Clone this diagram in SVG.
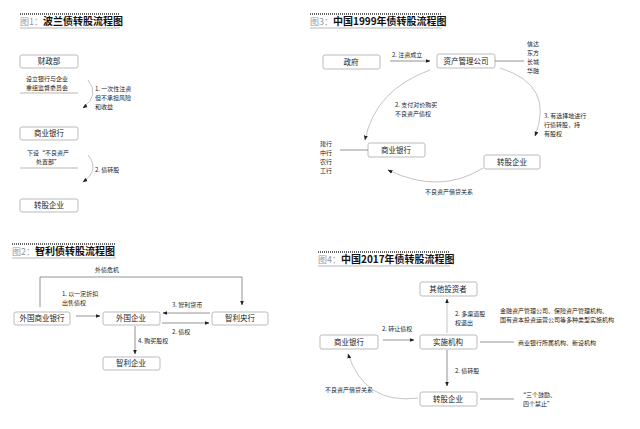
<svg xmlns="http://www.w3.org/2000/svg" width="640" height="429" viewBox="0 0 640 429">
<style>
text{font-family:"Noto Sans CJK SC","Noto Sans",sans-serif;font-size:6px;fill:#222}
.t{font-size:10px;font-weight:bold;fill:#111}
.tn{font-size:9px;fill:#999;font-weight:normal}
.b rect{fill:#fff;stroke:#bbb;stroke-width:1}
.b text{font-size:7.5px;text-anchor:middle}
.c{fill:none;stroke:#666;stroke-width:0.7}
.cg{fill:none;stroke:#aaa;stroke-width:0.7}
.dl{stroke:#666;stroke-width:2;stroke-dasharray:1 1}
.ul{stroke:#888;stroke-width:0.6}
</style>
<defs>
<marker id="a" viewBox="0 0 10 10" refX="9" refY="5" markerWidth="7" markerHeight="7" orient="auto"><path d="M0,1L10,5L0,9z" fill="#222"/></marker>
</defs>
<rect width="640" height="429" fill="#fff"/>
<g id="titles">
<line class="dl" x1="20" y1="14" x2="120" y2="14"/><text class="t" x="20" y="25"><tspan class="tn">图1：</tspan>波兰债转股流程图</text><line class="ul" x1="20" y1="28" x2="120" y2="28"/>
<line class="dl" x1="310" y1="14" x2="442" y2="14"/><text class="t" x="310" y="25"><tspan class="tn">图3：</tspan>中国1999年债转股流程图</text><line class="ul" x1="310" y1="28" x2="442" y2="28"/>
<line class="dl" x1="12" y1="244" x2="116" y2="244"/><text class="t" x="12" y="255"><tspan class="tn">图2：</tspan>智利债转股流程图</text><line class="ul" x1="12" y1="258" x2="116" y2="258"/>
<line class="dl" x1="318" y1="252" x2="450" y2="252"/><text class="t" x="318" y="263"><tspan class="tn">图4：</tspan>中国2017年债转股流程图</text><line class="ul" x1="318" y1="266" x2="450" y2="266"/>
</g>
<g id="n1a" class="b"><rect x="20" y="55" width="58" height="13" rx="2"/><text x="49" y="64">财政部</text></g>
<g id="n1b" class="b"><rect x="20" y="127" width="58" height="13" rx="2"/><text x="49" y="136">商业银行</text></g>
<g id="n1c" class="b"><rect x="20" y="199" width="58" height="13" rx="2"/><text x="49" y="208">转股企业</text></g>
<g id="n3a" class="b"><rect x="323" y="55" width="57" height="14" rx="2"/><text x="351" y="65">政府</text></g>
<g id="n3b" class="b"><rect x="437" y="54" width="58" height="14" rx="2"/><text x="466" y="64">资产管理公司</text></g>
<g id="n3c" class="b"><rect x="368" y="143" width="57" height="14" rx="2"/><text x="396" y="153">商业银行</text></g>
<g id="n3d" class="b"><rect x="484" y="155" width="56" height="14" rx="2"/><text x="512" y="165">转股企业</text></g>
<g id="n2a" class="b"><rect x="14" y="312" width="56" height="13" rx="2"/><text x="42" y="321">外国商业银行</text></g>
<g id="n2b" class="b"><rect x="103" y="312" width="57" height="13" rx="2"/><text x="131" y="321">外国企业</text></g>
<g id="n2c" class="b"><rect x="212" y="312" width="56" height="13" rx="2"/><text x="240" y="321">智利央行</text></g>
<g id="n2d" class="b"><rect x="103" y="357" width="57" height="13" rx="2"/><text x="131" y="366">智利企业</text></g>
<g id="n4a" class="b"><rect x="420" y="282" width="57" height="14" rx="2"/><text x="448" y="292">其他投资者</text></g>
<g id="n4b" class="b"><rect x="320" y="335" width="58" height="14" rx="2"/><text x="349" y="345">商业银行</text></g>
<g id="n4c" class="b"><rect x="420" y="335" width="57" height="14" rx="2"/><text x="448" y="345">实施机构</text></g>
<g id="n4d" class="b"><rect x="420" y="392" width="57" height="14" rx="2"/><text x="448" y="402">转股企业</text></g>
<g id="connectors">
<line class="ul" x1="20" y1="93" x2="78" y2="93"/>
<path class="cg" d="M88,80 Q100,95 83,108" marker-end="url(#a)"/>
<line class="ul" x1="20" y1="168" x2="78" y2="168"/>
<path class="cg" d="M88,155 Q100,170 83,182" marker-end="url(#a)"/>
<line class="c" x1="390" y1="61" x2="430" y2="61" marker-end="url(#a)"/>
<line class="c" x1="495" y1="61" x2="524" y2="61"/>
<path class="cg" d="M430,70 Q375,90 365,140" marker-end="url(#a)"/>
<path class="cg" d="M500,68 Q555,85 535,136" marker-end="url(#a)"/>
<line class="c" x1="340" y1="150" x2="368" y2="150"/>
<path class="cg" d="M483,168 Q440,195 388,170" marker-end="url(#a)"/>
<polyline class="c" points="40,307 40,277 242,277 242,305" marker-end="url(#a)"/>
<line class="c" x1="76" y1="316" x2="100" y2="316" marker-end="url(#a)"/>
<line class="c" x1="210" y1="313" x2="163" y2="313" marker-end="url(#a)"/>
<line class="c" x1="162" y1="323" x2="209" y2="323" marker-end="url(#a)"/>
<line class="c" x1="135" y1="326" x2="135" y2="354" marker-end="url(#a)"/>
<line class="cg" x1="447" y1="333" x2="447" y2="299" marker-end="url(#a)"/>
<line class="c" x1="383" y1="340" x2="414" y2="340" marker-end="url(#a)"/>
<line class="c" x1="480" y1="342" x2="514" y2="342"/>
<line class="c" x1="447" y1="350" x2="447" y2="386" marker-end="url(#a)"/>
<line class="c" x1="480" y1="399" x2="514" y2="399"/>
<path class="cg" d="M418,398 Q365,405 348,354" marker-end="url(#a)"/>
</g>
<g id="labels">
<text x="26" y="81">设立银行与企业</text><text x="26" y="90">重组监督委员会</text>
<text x="95" y="91">1. 一次性注资</text><text x="95" y="100">但不承担风险</text><text x="95" y="109">和收益</text>
<text x="27" y="155">下设“不良资产</text><text x="36" y="164">处置部”</text>
<text x="95" y="172">2. 债转股</text>
<text x="392" y="57">2. 注资成立</text>
<text x="527" y="46">信达</text><text x="527" y="55">东方</text><text x="527" y="64">长城</text><text x="527" y="73">华融</text>
<text x="395" y="107">2. 支付对价购买</text><text x="395" y="116">不良资产债权</text>
<text x="544" y="118">3. 有选择地进行</text><text x="544" y="127">行债转股，持</text><text x="544" y="136">有股权</text>
<text x="320" y="146">建行</text><text x="320" y="155">中行</text><text x="320" y="164">农行</text><text x="320" y="173">工行</text>
<text x="425" y="194">不良资产借贷关系</text>
<text x="95" y="272">外债危机</text>
<text x="62" y="296">1. 以一定折扣</text><text x="62" y="305">出售债权</text>
<text x="172" y="307">3. 智利货币</text>
<text x="172" y="334">2. 债权</text>
<text x="138" y="343">4. 购买股权</text>
<text x="455" y="316">2. 多渠道股</text><text x="455" y="325">权退出</text>
<text x="500" y="313">金融资产管理公司、保险资产管理机构、</text><text x="500" y="322">国有资本投资运营公司等多种类型实施机构</text>
<text x="382" y="331">2. 转让债权</text>
<text x="518" y="345">商业银行所属机构、新设机构</text>
<text x="455" y="373">2. 债转股</text>
<text x="520" y="397">“三个鼓励、</text><text x="523" y="406">四个禁止”</text>
<text x="325" y="392">不良资产借贷关系</text>
</g>
</svg>
